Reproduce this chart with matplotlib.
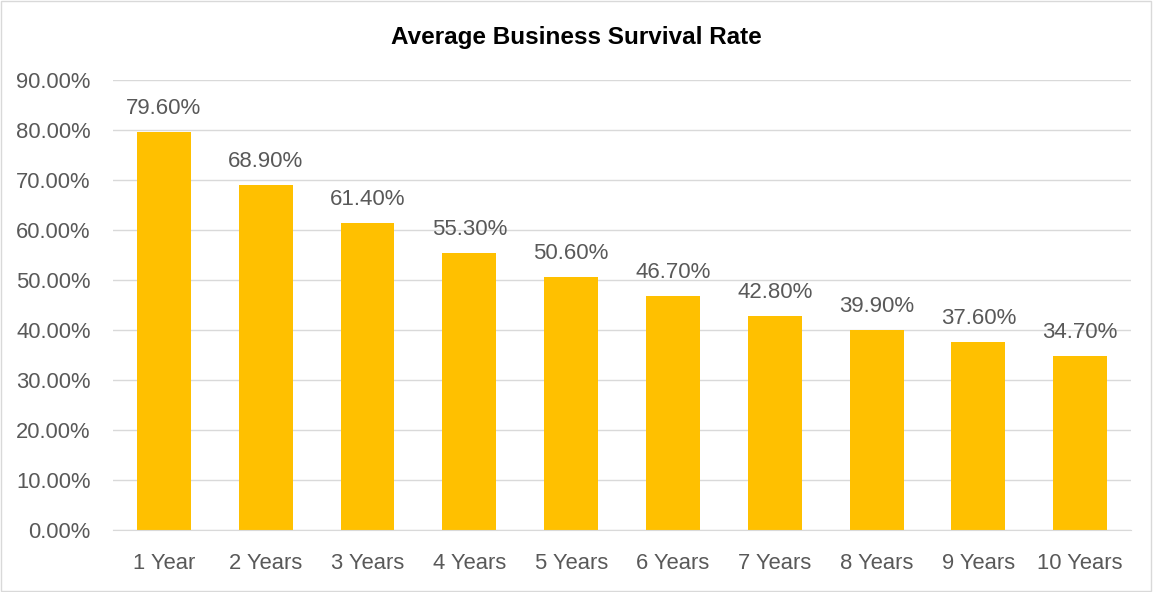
import matplotlib
matplotlib.use("Agg")
import matplotlib.pyplot as plt
from matplotlib.patches import Rectangle

plt.rcParams['font.family'] = ['Liberation Sans', 'DejaVu Sans']

# data
categories = ['1 Year', '2 Years', '3 Years', '4 Years', '5 Years',
              '6 Years', '7 Years', '8 Years', '9 Years', '10 Years']
survival = [79.6, 68.9, 61.4, 55.3, 50.6, 46.7, 42.8, 39.9, 37.6, 34.7]
yticks = [0, 10, 20, 30, 40, 50, 60, 70, 80, 90]

text_col = '#595959'

fig = plt.figure(figsize=(11.53, 5.92), dpi=100)
ax = fig.add_axes([0.098, 0.105, 0.883, 0.76])

x = range(len(categories))
ax.bar(x, survival, width=0.53, color='#FFC000', zorder=2)

for xi, v in zip(x, survival):
    ax.text(xi, v + 2.6, f'{v:.2f}%', ha='center', va='bottom',
            fontsize=16, color=text_col)

ax.set_ylim(0, 90)
ax.set_xlim(-0.5, len(categories) - 0.5)
ax.set_yticks(yticks)
ax.set_yticklabels([f'{t:.2f}%' for t in yticks])
ax.set_xticks(list(x))
ax.set_xticklabels(categories)
ax.tick_params(axis='both', length=0, labelsize=15.8, labelcolor=text_col)
ax.tick_params(axis='x', pad=17)
ax.tick_params(axis='y', pad=16)
ax.yaxis.grid(True, color='#D9D9D9', linewidth=1, zorder=0)
for s in ['top', 'right', 'left']:
    ax.spines[s].set_visible(False)
ax.spines['bottom'].set_color('#D9D9D9')

fig.text(0.5, 0.937, 'Average Business Survival Rate', ha='center', va='center',
         fontsize=17.5, fontweight='bold', color='black')

fig.patches.append(Rectangle((0.0005, 0.001), 0.998, 0.997, transform=fig.transFigure,
                             fill=False, edgecolor='#D9D9D9', linewidth=1))

fig.savefig('out.png', dpi=100)
